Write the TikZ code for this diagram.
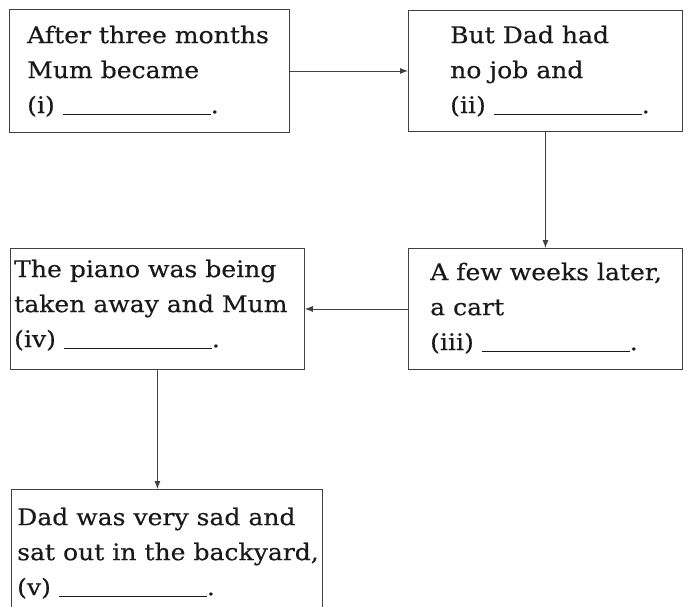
\documentclass[tikz,border=0pt]{standalone}
\usepackage{fontspec}
\setmainfont[FakeStretch=1.09,FakeBold=0.4]{DejaVu Serif}
\usetikzlibrary{arrows.meta}
\newcommand{\blankline}{\rule[-2pt]{148pt}{0.8pt}}
\begin{document}
\begin{tikzpicture}[x=1pt,y=-1pt]
				\useasboundingbox (0,0) rectangle (692,606);
				\begin{scope}[every node/.style={rectangle,draw=black!75,line width=0.9pt,anchor=north west}]
					\node[minimum width=280,minimum height=123] (months) at (9,9) {};
					\node[minimum width=274,minimum height=121] (nojob) at (408,10) {};
					\node[minimum width=274,minimum height=121] (cart) at (408,248) {};
					\node[minimum width=294,minimum height=121] (piano) at (10,248) {};
					\node[minimum width=311,minimum height=130] (backyard) at (11,489) {};
				\end{scope}
				\begin{scope}[every node/.style={anchor=north west,inner sep=0pt,align=left,font=\fontsize{23}{35}\selectfont,text=black!90}]
					\node (monthstext) at (27,25.5) {After three months\\Mum became\\(i) \blankline.};
					\node (nojobtext) at (450,25.5) {But Dad had\\no job and\\(ii) \blankline.};
					\node (carttext) at (430,262.5) {A few weeks later,\\a cart\\(iii) \blankline.};
					\node (pianotext) at (14,259.5) {The piano was being\\taken away and Mum\\(iv) \blankline.};
					\node (backyardtext) at (17,507.5) {Dad was very sad and\\sat out in the backyard,\\(v) \blankline.};
				\end{scope}
				\begin{scope}[black!75,line width=0.8pt,-{Latex[length=8pt,width=6pt]}]
					\draw (months) -- (nojob);
					\draw (nojob) -- (cart);
					\draw (cart) -- (piano);
					\draw (piano.south) -- (piano.south |- backyard.north);
				\end{scope}
			\end{tikzpicture}
\end{document}
